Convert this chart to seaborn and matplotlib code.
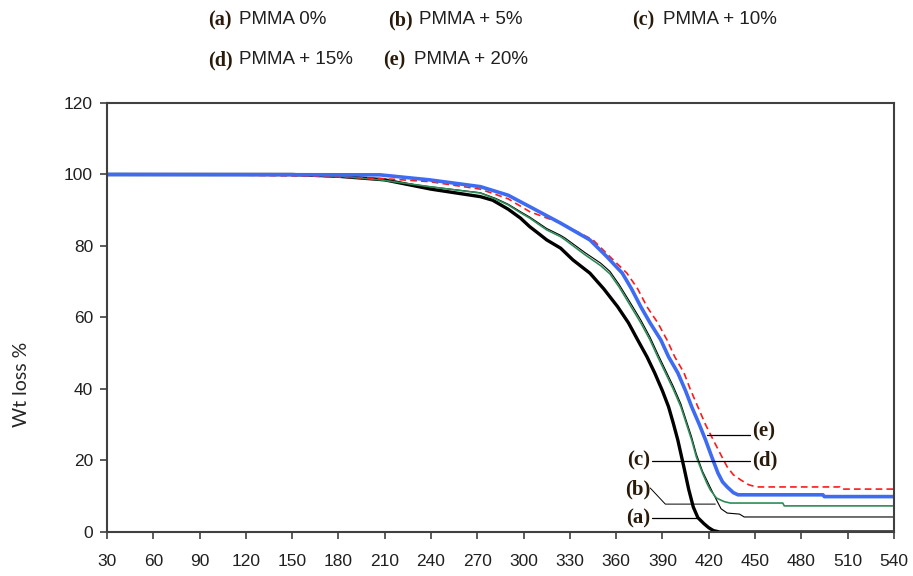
import numpy as np
import pandas as pd
import matplotlib
matplotlib.use("Agg")
import matplotlib.pyplot as plt
import seaborn as sns

# Temperature (x) and weight (%)
temp_a = [30, 150, 180, 210, 240, 272, 280, 290, 298, 304, 310, 315, 324, 332, 343, 352, 361, 368,
          374, 380, 385, 390, 394, 397, 400, 404, 407, 410, 413, 417, 420, 423, 427, 540]
wt_a = [100, 100, 99.5, 98.5, 95.9, 93.8, 92.8, 90.3, 87.8, 85.4, 83.4, 81.7, 79.4, 76.1, 72.4, 68, 63, 58.5,
        53.7, 49, 44.5, 39.5, 35, 30.5, 25.7, 18, 12, 7, 4, 2.3, 1.2, 0.4, 0, 0]

temp_b = [30, 150, 180, 207, 239, 272, 282, 290, 298, 304, 315, 324, 327, 340, 350, 356, 362, 369, 376,
          382, 387, 392, 397, 402, 405, 409, 412, 416, 421, 425, 428, 432, 440, 443, 540]
wt_b = [100, 100, 99.5, 98.5, 96.6, 94.9, 93.3, 91.7, 89.6, 88.1, 84.9, 83.0, 82.2, 78.1, 75.2, 72.9, 69.2, 64.3, 59.3,
        54.5, 49.8, 45.3, 40.8, 35.8, 31.8, 26.5, 21.8, 17, 12.5, 9, 6.5, 5.3, 5.0, 4.2, 4.2]

temp_c = [30, 150, 180, 207, 239, 272, 282, 290, 298, 304, 315, 324, 327, 340, 350, 356, 362, 369, 376,
          382, 387, 392, 397, 402, 405, 409, 412, 416, 419, 421, 425, 430, 434, 468, 469, 540]
wt_c = [100, 100, 99.5, 98.5, 96.6, 94.8, 93.1, 91.5, 89.3, 87.8, 84.5, 82.6, 81.7, 77.5, 74.5, 72.2, 68.5, 63.5, 58.5,
        53.7, 49, 44.5, 40, 35, 31, 25.7, 21, 16.5, 13.5, 11.8, 9.5, 8.5, 8.1, 8.1, 7.3, 7.3]

temp_d = [30, 207, 239, 272, 290, 304, 324, 343, 354, 364, 370, 376, 382, 389, 394, 400, 405,
          409, 414, 418, 422, 426, 429, 432, 436, 439, 494, 495, 540]
wt_d = [100, 99.9, 98.5, 96.6, 94.2, 91, 86.4, 81.7, 77, 72.4, 68, 63, 58.5, 53.7, 49, 44.5, 39.5,
        35, 30, 25.7, 21, 16.5, 14, 12.6, 11, 10.4, 10.4, 9.9, 9.9]

temp_e = [30, 90, 166, 207, 239, 272, 290, 304, 324, 345, 356, 367, 374, 380, 387, 393, 398,
          404, 408, 413, 418, 423, 428, 432, 436, 441, 446, 451, 505, 506, 540]
wt_e = [100, 100, 99.5, 98.9, 98, 95.9, 93.2, 89.6, 86.4, 81.7, 77, 72.4, 68, 63, 58.5, 53.7, 49,
        44.5, 40, 35, 30, 25.7, 21.5, 18.2, 16, 14.5, 13.2, 12.6, 12.6, 12.0, 12.0]

x_ticks = list(range(30, 541, 30))
y_ticks = list(range(0, 121, 20))

legend_rows = [
    [("(a)", "PMMA 0%"), ("(b)", "PMMA + 5%"), ("(c)", "PMMA + 10%")],
    [("(d)", "PMMA + 15%"), ("(e)", "PMMA + 20%")],
]

sns.set_style("white")
plt.rcParams['font.family'] = ['Liberation Sans', 'DejaVu Sans']

fig = plt.figure(figsize=(9.13, 5.76), dpi=100)
ax = fig.add_axes([0.1172, 0.0764, 0.979 - 0.1172, 0.8212 - 0.0764])

# order: thin ones first, blue over red
sns.lineplot(x=temp_a, y=wt_a, ax=ax, color="black", lw=2.4, sort=False, estimator=None)
sns.lineplot(x=temp_b, y=wt_b, ax=ax, color="black", lw=0.8, sort=False, estimator=None)
sns.lineplot(x=temp_c, y=wt_c, ax=ax, color="#2e8b57", lw=1.2, sort=False, estimator=None)
sns.lineplot(x=temp_e, y=wt_e, ax=ax, color="#ff1a1a", lw=1.2, sort=False, estimator=None,
             linestyle=(0, (4, 2.5)))
sns.lineplot(x=temp_d, y=wt_d, ax=ax, color="#3d6cf2", lw=2.6, sort=False, estimator=None)

ax.set_xlim(30, 540)
ax.set_ylim(0, 120)
ax.set_xticks(x_ticks)
ax.set_yticks(y_ticks)
ax.tick_params(axis="both", direction="out", length=5, width=1.2, color="#404040",
               labelsize=12.5, labelcolor="#202020", bottom=True, left=True)
ax.tick_params(axis="x", pad=11)
ax.tick_params(axis="y", pad=5)
for side in ax.spines.values():
    side.set_color("#404040")
    side.set_linewidth(1.5)
ax.set_xlabel("")
ax.set_ylabel("Wt loss %", fontsize=14, family=["Lato", "DejaVu Sans"])
ax.yaxis.set_label_coords(-0.098, 0.343)

# curve labels with leader lines
lab_font = dict(family=["Liberation Serif", "DejaVu Serif"], fontweight="bold",
                fontsize=15, color="#2a1a0a", va="center")
ax.plot([419, 447], [27.1, 27.1], color="black", lw=0.9)
ax.text(448, 28, "(e)", ha="left", **lab_font)
ax.plot([383.4, 447], [19.9, 19.9], color="black", lw=0.9)
ax.text(382, 20.1, "(c)", ha="right", **lab_font)
ax.text(448, 20.1, "(d)", ha="left", **lab_font)
ax.plot([382.1, 391.9, 424.3], [12.3, 7.8, 7.8], color="black", lw=0.7)
ax.text(382, 12.0, "(b)", ha="right", **lab_font)
ax.plot([383.4, 412.6], [3.9, 3.9], color="black", lw=0.9)
ax.text(382, 3.9, "(a)", ha="right", **lab_font)

# legend text above plot
row_y = [1 - 20 / 576, 1 - 60 / 576]
col_x = [[208, 388, 632], [208, 383]]
for r, row in enumerate(legend_rows):
    for c, (tag, name) in enumerate(row):
        x0 = col_x[r][c] / 913
        fig.text(x0, row_y[r], tag, family=["Liberation Serif", "DejaVu Serif"],
                 fontweight="bold", fontsize=14.5, color="#2a1a0a", va="center")
        fig.text(x0 + 31 / 913, row_y[r], name, fontsize=13.5, color="#202020", va="center")

fig.savefig("out.png", dpi=100)
